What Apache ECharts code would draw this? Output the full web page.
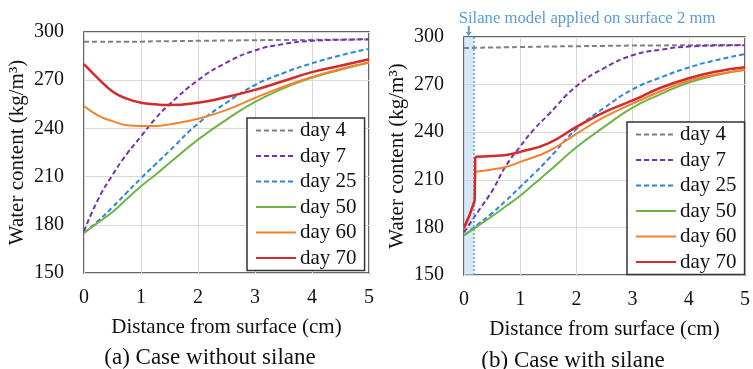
<!DOCTYPE html>
<html>
<head>
<meta charset="utf-8">
<script src="https://cdn.jsdelivr.net/npm/echarts@6/dist/echarts.min.js"></script>
<style>
  html, body { margin: 0; padding: 0; background: #fff; }
  #chart { width: 753px; height: 369px; }
</style>
</head>
<body>
<div id="chart"></div>
<script>
// distance from surface (cm)
const distA = [0, 0.25, 0.5, 0.75, 1, 1.25, 1.5, 2, 2.5, 3, 3.5, 4, 4.5, 5];
// right panel red/orange have the jump at the silane layer (first 4 points = layer)
const distB = [0, 0.1, 0.19, 0.2, 0.5, 0.75, 1, 1.5, 2, 2.5, 3, 3.5, 4, 4.5, 5];

const dayNames = ["day 4", "day 7", "day 25", "day 50", "day 60", "day 70"];

// (a) case without silane
const noSilaneDay4 = [294, 294, 294, 294, 294, 294.2, 294.3, 294.5, 294.7, 294.9, 295, 295.1, 295.2, 295.3];
const noSilaneDay7 = [176, 196, 211, 224, 235, 246, 255, 270, 281, 288.5, 292.5, 294.5, 295.2, 295.5];
const noSilaneDay25 = [175, 182.5, 191, 200, 209, 217.5, 226, 243, 256, 267, 274.5, 280.5, 285.5, 289.5];
const noSilaneDay50 = [175, 181.5, 188, 196, 204, 211, 218.5, 233, 245.5, 256.5, 265, 271.5, 276.5, 281];
const noSilaneDay60 = [254, 248, 244.5, 242, 241.5, 241.5, 242.5, 246, 251.5, 259, 266, 272, 277, 281];
const noSilaneDay70 = [280, 271, 263, 258.5, 256, 255, 254.5, 256, 259.5, 264, 269.5, 275, 279, 283];

// (b) case with silane
const silaneDay4 = [293, 293.2, 293.4, 293.5, 293.7, 293.8, 294, 294.2, 294.4, 294.6, 294.7, 294.8, 294.9, 295];
const silaneDay7 = [177, 190, 203, 219, 231, 242, 251, 269, 280.5, 288.5, 292, 294, 294.6, 294.8];
const silaneDay25 = [175, 182, 189, 197, 205.5, 214, 223, 242, 255.5, 267, 274.5, 280.8, 285.5, 289.2];
const silaneDay50 = [175, 181, 187, 193.5, 200, 207.5, 215, 230.5, 243.5, 255.5, 264, 271.3, 276, 279.5];
const silaneDay60 = [179, 187.5, 196, 215, 216.5, 218.2, 221.3, 228, 239, 249.6, 258, 265.8, 272.5, 276.5, 279.2];
const silaneDay70 = [180, 188, 197, 224.5, 225, 225.7, 227.6, 233, 243.3, 252.7, 260, 268, 274, 278.3, 281];

const silaneDepth = 0.17; // cm, shaded layer
const layerPts = 4;

const colors = ["#808080", "#7a2fb0", "#2f86d8", "#70b446", "#f5822a", "#d42a2a"];
const dashes = [[5, 3], [5, 3], [5, 3], "solid", "solid", "solid"];
const font = "Liberation Serif";

const zip = (xs, ys) => xs.map((x, i) => [x, ys[i]]);

function makeSeries(idx, pts, gi, smooth) {
  return {
    name: dayNames[idx],
    type: "line",
    xAxisIndex: gi,
    yAxisIndex: gi,
    data: pts,
    showSymbol: false,
    symbol: "none",
    smooth: smooth,
    color: colors[idx],
    lineStyle: { color: colors[idx], width: idx === 5 ? 2.5 : 2, type: dashes[idx] },
    z: 2 + idx,
  };
}

const seriesA = [noSilaneDay4, noSilaneDay7, noSilaneDay25, noSilaneDay50, noSilaneDay60, noSilaneDay70]
  .map((ys, i) => makeSeries(i, zip(distA, ys), 0, true));
const seriesB = [silaneDay4, silaneDay7, silaneDay25, silaneDay50]
  .map((ys, i) => makeSeries(i, zip(distA, ys), 1, true));
[silaneDay60, silaneDay70].forEach((ys, k) => {
  const pts = zip(distB, ys);
  // straight segments through the silane layer, smooth beyond it
  seriesB.push(makeSeries(4 + k, pts.slice(0, layerPts), 1, false));
  seriesB.push(makeSeries(4 + k, pts.slice(layerPts - 1), 1, true));
});

// shaded silane layer + arrow on the first series of panel b
seriesB[0].markArea = {
  silent: true,
  itemStyle: { color: "rgba(189,215,238,0.6)" },
  data: [[{ xAxis: 0 }, { xAxis: silaneDepth }]],
};
seriesB[0].markLine = {
  silent: true,
  symbol: "none",
  label: { show: false },
  lineStyle: { color: "#5b9bd5", type: [2, 2], width: 1.5 },
  data: [{ xAxis: silaneDepth }],
};
seriesB[0].markPoint = {
  silent: true,
  symbol: "path://M-1,0 L1,0 L1,6 L3,6 L0,10 L-3,6 L-1,6 Z",
  symbolSize: [6, 10],
  symbolOffset: [0, -6],
  itemStyle: { color: "#5b9bd5" },
  label: { show: false },
  data: [{ coord: [silaneDepth / 2, 300] }],
};

function xAxisFor(gi) {
  return {
    gridIndex: gi,
    type: "value",
    min: 0, max: 5, interval: 1,
    name: "Distance from surface (cm)",
    nameLocation: "middle",
    nameGap: 44,
    nameTextStyle: { fontFamily: font, fontSize: 21, color: "#111" },
    axisLine: { show: false },
    axisTick: { show: false },
    axisLabel: { fontFamily: font, fontSize: 20, color: "#111", margin: 15 },
    splitLine: { lineStyle: { color: "#d9d9d9", width: 1 } },
  };
}
function yAxisFor(gi) {
  return {
    gridIndex: gi,
    type: "value",
    min: 150, max: 300, interval: 30,
    name: "Water content (kg/m³)",
    nameLocation: "middle",
    nameRotate: 90,
    nameGap: 56,
    nameTextStyle: { fontFamily: font, fontSize: 21, color: "#111" },
    axisLine: { show: false },
    axisTick: { show: false },
    axisLabel: { fontFamily: font, fontSize: 20, color: "#111", margin: 20 },
    splitLine: { lineStyle: { color: "#d9d9d9", width: 1 } },
  };
}
function legendAt(left, top) {
  return {
    data: dayNames,
    orient: "vertical",
    left: left, top: top,
    backgroundColor: "#fff",
    borderColor: "#333",
    borderWidth: 1.5,
    borderRadius: 0,
    padding: [2, 8, 2, 8],
    itemGap: 4.5,
    itemWidth: 40,
    itemHeight: 14,
    selectedMode: false,
    itemStyle: { opacity: 0 },
    textStyle: { fontFamily: font, fontSize: 21, color: "#111", lineHeight: 20, padding: [0, 0, 0, -1] },
  };
}

const chart = echarts.init(document.getElementById("chart"));
chart.setOption({
  animation: false,
  backgroundColor: "#fff",
  title: [
    { text: "(a) Case without silane", left: 205, textAlign: "center", top: 341,
      textStyle: { fontFamily: font, fontSize: 23, fontWeight: "normal", color: "#111" } },
    { text: "(b) Case with silane", left: 568, textAlign: "center", top: 344,
      textStyle: { fontFamily: font, fontSize: 23, fontWeight: "normal", color: "#111" } },
    { text: "Silane model applied on surface 2 mm", left: 582, textAlign: "center", top: 5,
      textStyle: { fontFamily: font, fontSize: 16.7, fontWeight: "normal", color: "#5b9bd5" } },
  ],
  grid: [
    { left: 84, top: 32, width: 285, height: 241, show: true, borderColor: "#333", borderWidth: 1.5, backgroundColor: "transparent" },
    { left: 464, top: 37, width: 286, height: 238, show: true, borderColor: "#333", borderWidth: 1.5, backgroundColor: "transparent" },
  ],
  legend: [legendAt(247, 118), legendAt(627, 122)],
  xAxis: [xAxisFor(0), xAxisFor(1)],
  yAxis: [yAxisFor(0), yAxisFor(1)],
  series: seriesA.concat(seriesB),
});
window.addEventListener("resize", () => chart.resize());
</script>
</body>
</html>
